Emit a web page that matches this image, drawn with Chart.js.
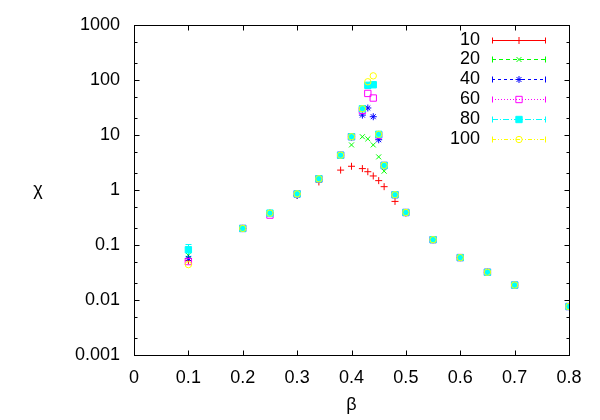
<!DOCTYPE html>
<html>
<head>
<meta charset="utf-8">
<script src="https://cdn.jsdelivr.net/npm/chart.js@4/dist/chart.umd.min.js"></script>
<style>
  body { margin: 0; background: #fff; }
</style>
</head>
<body>
<canvas id="myChart" width="600" height="420"></canvas>
<script>
const betas = [0.1, 0.2, 0.25, 0.3, 0.34, 0.38, 0.4, 0.42, 0.43, 0.44, 0.45, 0.46, 0.48, 0.5, 0.55, 0.6, 0.65, 0.7, 0.8];
const sizes = ["10", "20", "40", "60", "80", "100"];

const chi10 = [0.052, 0.2, 0.38, 0.8, 1.4, 2.3, 2.7, 2.45, 2.15, 1.8, 1.48, 1.15, 0.62, 0.38, 0.125, 0.059, 0.032, 0.0187, 0.0076];
const chi20 = [0.065, 0.2, 0.38, 0.82, 1.5, 4.2, 6.6, 9.3, 8.5, 6.6, 4.0, 2.2, 0.8, 0.39, 0.125, 0.059, 0.032, 0.0187, 0.0076];
const chi40 = [0.057, 0.2, 0.38, 0.8, 1.55, 4.3, 9.0, 23, 31, 21.5, 8.2, 2.7, 0.8, 0.39, 0.125, 0.059, 0.032, 0.0187, 0.0076];
const chi60 = [0.05, 0.2, 0.35, 0.85, 1.6, 4.3, 9.3, 28, 57, 47, 10, 2.8, 0.82, 0.39, 0.125, 0.059, 0.032, 0.0187, 0.0076];
const chi80 = [0.082, 0.2, 0.38, 0.85, 1.6, 4.3, 9.3, 30, 80, 82, 10.3, 2.8, 0.82, 0.39, 0.125, 0.059, 0.032, 0.0187, 0.0076];
const chi100 = [0.044, 0.2, 0.38, 0.85, 1.6, 4.3, 9.3, 30, 93, 119, 10.3, 2.8, 0.82, 0.39, 0.125, 0.059, 0.032, 0.0187, 0.0076];
const err80 = [0.02, 0, 0, 0, 0, 0, 0, 0, 0, 0, 0, 0, 0, 0, 0, 0, 0, 0, 0];

const yTicks = [0.001, 0.01, 0.1, 1, 10, 100, 1000];

const colors = ["#ff0000", "#00ff00", "#0000ff", "#ff00ff", "#00ffff", "#ffff00"];
const styles = ["cross", "crossRot", "star", "rect", "rect", "circle"];
const radii = [3.5, 3.5, 3.5, 4.5, 4.5, 3.2];
const fills = ["#ff0000", "#00ff00", "#0000ff", "rgba(0,0,0,0)", "#00ffff", "rgba(0,0,0,0)"];
const dashes = [[], [4, 3], [3, 3], [1, 2], [6, 2, 1, 2], [4, 2, 1, 2, 1, 2]];

const FONT = "'Liberation Sans', Arial, Helvetica, sans-serif";
Chart.defaults.font.family = FONT;
Chart.defaults.font.size = 18;
Chart.defaults.color = "#000";

const allChi = [chi10, chi20, chi40, chi60, chi80, chi100];
const datasets = sizes.map((s, i) => ({
  label: s,
  data: betas.map((b, j) => ({ x: b, y: allChi[i][j] })),
  errors: i === 4 ? err80 : null,
  order: sizes.length - i, // later series drawn on top, like gnuplot
  showLine: false,
  pointStyle: styles[i],
  pointRadius: radii[i],
  pointBorderWidth: 1,
  borderColor: colors[i],
  backgroundColor: fills[i],
}));

// gnuplot-like box with inward ticks, error bars, legend and axis labels
const gp = {
  id: "gp",
  beforeDatasetsDraw(chart) {
    const { ctx, scales: { x, y } } = chart;
    ctx.save();
    chart.data.datasets.forEach((ds) => {
      if (!ds.errors) return;
      ctx.strokeStyle = ds.borderColor;
      ctx.lineWidth = 1;
      ds.data.forEach((p, j) => {
        const e = ds.errors[j];
        if (!e) return;
        const px = Math.round(x.getPixelForValue(p.x)) + 0.5;
        const y1 = y.getPixelForValue(p.y + e);
        const y2 = y.getPixelForValue(Math.max(p.y - e, 1e-4));
        ctx.beginPath();
        ctx.moveTo(px, y1); ctx.lineTo(px, y2);
        ctx.moveTo(px - 3, y1); ctx.lineTo(px + 3, y1);
        ctx.moveTo(px - 3, y2); ctx.lineTo(px + 3, y2);
        ctx.stroke();
      });
    });
    ctx.restore();
  },
  afterDraw(chart) {
    const { ctx, chartArea: a, scales: { x, y } } = chart;
    ctx.save();
    ctx.strokeStyle = "#000";
    ctx.lineWidth = 1;
    const L = Math.round(a.left) + 0.5, R = Math.round(a.right) + 0.5;
    const T = Math.round(a.top) + 0.5, B = Math.round(a.bottom) + 0.5;
    ctx.strokeRect(L, T, R - L, B - T);
    ctx.beginPath();
    x.ticks.forEach((t) => {
      const px = Math.round(x.getPixelForValue(t.value)) + 0.5;
      ctx.moveTo(px, B); ctx.lineTo(px, B - 5);
      ctx.moveTo(px, T); ctx.lineTo(px, T + 5);
    });
    yTicks.forEach((v) => {
      const py = Math.round(y.getPixelForValue(v)) + 0.5;
      ctx.moveTo(L, py); ctx.lineTo(L + 5, py);
      ctx.moveTo(R, py); ctx.lineTo(R - 5, py);
      if (v < 1000) {
        [2, 5].forEach((m) => {
          const q = Math.round(y.getPixelForValue(v * m)) + 0.5;
          ctx.moveTo(L, q); ctx.lineTo(L + 3, q);
          ctx.moveTo(R, q); ctx.lineTo(R - 3, q);
        });
      }
    });
    ctx.stroke();

    // axis labels
    ctx.fillStyle = "#000";
    ctx.font = "18px " + FONT;
    ctx.textAlign = "center";
    ctx.textBaseline = "middle";
    ctx.fillText("β", (a.left + a.right) / 2, 405);
    ctx.fillText("χ", 38, (a.top + a.bottom) / 2);

    // legend
    const textX = a.right - 89, x0 = a.right - 77, x1 = a.right - 23, xm = (x0 + x1) / 2;
    chart.data.datasets.forEach((ds, i) => {
      const ry = Math.round(a.top + 14.5 + i * 19.8) + 0.5;
      ctx.fillStyle = "#000";
      ctx.textAlign = "right";
      ctx.fillText(ds.label, textX, ry);
      ctx.strokeStyle = colors[i];
      ctx.lineWidth = 1;
      ctx.setLineDash(dashes[i]);
      ctx.beginPath();
      ctx.moveTo(x0, ry); ctx.lineTo(x1, ry);
      ctx.stroke();
      ctx.setLineDash([]);
      ctx.beginPath();
      ctx.moveTo(x0 + 0.5, ry - 3); ctx.lineTo(x0 + 0.5, ry + 3);
      ctx.moveTo(x1 - 0.5, ry - 3); ctx.lineTo(x1 - 0.5, ry + 3);
      ctx.stroke();
      ctx.strokeStyle = colors[i];
      ctx.fillStyle = fills[i];
      Chart.helpers.drawPoint(ctx, {
        pointStyle: styles[i], radius: radii[i], rotation: 0, borderWidth: 1,
      }, xm, ry);
    });
    ctx.restore();
  },
};

const ctx = document.getElementById("myChart");
const myChart = new Chart(ctx, {
  type: "scatter",
  data: { datasets },
  options: {
    responsive: false,
    animation: false,
    layout: { padding: { top: 25, right: 31, left: 0, bottom: 0 } },
    plugins: { legend: { display: false }, tooltip: { enabled: false } },
    scales: {
      x: {
        type: "linear",
        min: 0,
        max: 0.8,
        ticks: { stepSize: 0.1, padding: 12, maxRotation: 0, autoSkip: false },
        grid: { display: false, drawTicks: false },
        border: { display: false },
        afterFit: (s) => { s.height = 65; },
      },
      y: {
        type: "logarithmic",
        min: 0.001,
        max: 1000,
        afterBuildTicks: (s) => { s.ticks = yTicks.map((v) => ({ value: v })); },
        ticks: { padding: 14, callback: (v) => String(v) },
        grid: { display: false, drawTicks: false },
        border: { display: false },
        afterFit: (s) => { s.width = 134; },
      },
    },
  },
  plugins: [gp],
});
</script>
</body>
</html>
